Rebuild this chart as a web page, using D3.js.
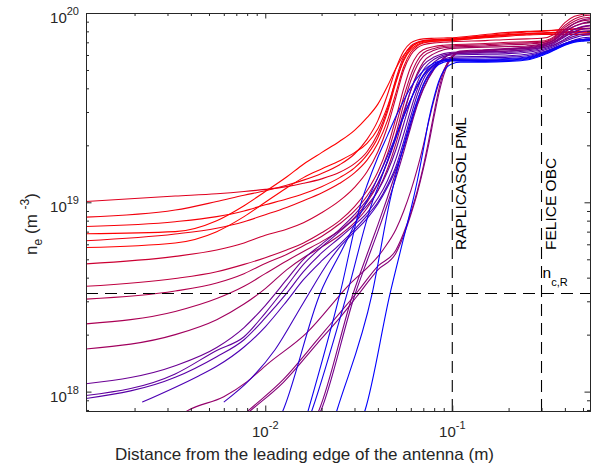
<!DOCTYPE html>
<html>
<head>
<meta charset="utf-8">
<script src="https://cdn.jsdelivr.net/npm/d3@7"></script>
<style>
  body { margin: 0; background: #fff; }
  text { font-family: "Liberation Sans", Arial, Helvetica, sans-serif; fill: #262626; }
</style>
</head>
<body>
<svg id="chart" width="592" height="464"></svg>
<script>
// Electron density profiles in front of the antenna, log-log.
const UNIT = 1e18;                 // profile values are given in 1e18 m^-3
const xDomain = [0.0011, 0.545];   // m
const yDomain = [7.9e17, 1e20];    // m^-3
const xMajorTicks = [0.01, 0.1];
const yMajorTicks = [1e18, 1e19, 1e20];
const boundaries = [
  { x: 0.1, label: "RAPLICASOL PML" },
  { x: 0.3, label: "FELICE OBC" }
];
const cutoffDensity = 3.3e18;      // n_c,R

// Sweep parameter of each profile (0 = first, 1 = last), drives the colour.
const sweep = [0.12, 0.05, 0.03, 0.0, 0.06, 0.0, 0.2, 0.25, 0.3, 0.33, 0.37,
               0.58, 0.62, 0.65, 0.7, 0.42, 0.45, 0.48, 0.5, 0.55, 0.75,
               0.88, 0.95, 0.92, 0.97, 1.0];

// Density ramp up to the PML, [x (m), n (1e18 m^-3)].
const rises = [
  [[0.0011,10.1],[0.0033,10.8],[0.0055,11.1],[0.0077,11.4],[0.01,11.7],[0.013,12.1],[0.016,12.6],[0.02,13.3],[0.025,14.4],[0.03,16],[0.035,18.5],[0.04,23],[0.045,31],[0.05,45],[0.055,59],[0.06,67],[0.065,70],[0.07,71.5],[0.08,72.3],[0.09,72.7],[0.1,73]],
  [[0.0011,8.35],[0.0033,9.1],[0.0055,10.1],[0.0077,10.9],[0.01,11.5],[0.013,12.3],[0.016,13.1],[0.02,14.2],[0.025,15.8],[0.03,18],[0.035,21.5],[0.04,27],[0.045,37],[0.05,51],[0.055,63],[0.06,69.5],[0.065,72],[0.07,73],[0.08,73.5],[0.09,73.8],[0.1,74]],
  [[0.0011,7.45],[0.0033,7.9],[0.0055,8.4],[0.0077,9.0],[0.01,9.7],[0.013,10.4],[0.016,11.1],[0.02,12.1],[0.025,13.5],[0.03,15.2],[0.035,17.8],[0.04,22],[0.045,30],[0.05,43],[0.055,57],[0.06,65.5],[0.065,69.5],[0.07,71],[0.08,72],[0.09,72.3],[0.1,72.5]],
  [[0.0011,6.82],[0.0033,7.0],[0.0055,8.0],[0.0077,9.6],[0.01,11.4],[0.013,13.6],[0.016,15.9],[0.02,18.3],[0.025,21],[0.03,24],[0.035,28],[0.04,33],[0.045,41],[0.05,51],[0.055,60],[0.06,66],[0.065,69.5],[0.07,71],[0.08,72],[0.09,72.5],[0.1,73]],
  [[0.0011,6.27],[0.0033,6.8],[0.0055,7.3],[0.0077,7.9],[0.01,8.6],[0.013,9.4],[0.016,10.2],[0.02,11.2],[0.025,12.6],[0.03,14.3],[0.035,16.7],[0.04,20.5],[0.045,27],[0.05,38],[0.055,52],[0.06,62],[0.065,67],[0.07,69.5],[0.08,71],[0.09,71.5],[0.1,72]],
  [[0.0011,5.77],[0.0033,6.1],[0.0055,7.0],[0.0077,8.4],[0.01,10.0],[0.013,11.9],[0.016,13.5],[0.02,15.0],[0.025,16.6],[0.03,18.3],[0.035,20.5],[0.04,24.5],[0.045,32],[0.05,44],[0.055,56],[0.06,64],[0.065,68],[0.07,70],[0.08,71],[0.09,71.3],[0.1,71.5]],
  [[0.0011,4.73],[0.0033,5.18],[0.0055,5.6],[0.0077,6.1],[0.01,6.7],[0.013,7.2],[0.016,7.8],[0.02,8.8],[0.025,10.2],[0.03,12],[0.035,14.5],[0.04,18.5],[0.045,25],[0.05,36],[0.055,50],[0.06,60],[0.065,65.5],[0.07,68],[0.08,69.5],[0.09,70],[0.1,70.5]],
  [[0.0011,3.6],[0.0033,3.96],[0.0055,4.3],[0.0077,4.7],[0.01,5.1],[0.013,5.6],[0.016,6.1],[0.02,6.9],[0.025,8.0],[0.03,9.5],[0.035,11.5],[0.04,14.5],[0.045,19.5],[0.05,28],[0.055,40],[0.06,52],[0.065,60],[0.07,64],[0.08,66.5],[0.09,67.5],[0.1,68]],
  [[0.0011,3.08],[0.0033,3.4],[0.0055,3.75],[0.0077,4.2],[0.01,4.75],[0.013,5.3],[0.016,5.9],[0.02,6.6],[0.025,7.7],[0.03,9.0],[0.035,10.8],[0.04,13.5],[0.045,18],[0.05,25.5],[0.055,36],[0.06,47],[0.065,56],[0.07,61.5],[0.08,65],[0.09,66.5],[0.1,67]],
  [[0.0011,2.28],[0.0033,2.65],[0.0055,3.1],[0.0077,3.6],[0.01,4.2],[0.013,4.9],[0.016,5.5],[0.02,6.2],[0.025,7.1],[0.03,8.3],[0.035,10],[0.04,12.5],[0.045,16.5],[0.05,23],[0.055,33],[0.06,44],[0.065,53],[0.07,59],[0.08,63.5],[0.09,65.5],[0.1,66]],
  [[0.0011,1.68],[0.0033,2.0],[0.0055,2.4],[0.0077,2.9],[0.01,3.5],[0.013,4.4],[0.016,5.1],[0.02,5.8],[0.025,6.7],[0.03,7.8],[0.035,9.3],[0.04,11.5],[0.045,15],[0.05,20.5],[0.055,29],[0.06,39],[0.065,48],[0.07,55],[0.08,61],[0.09,64],[0.1,65]],
  [[0.0011,1.10],[0.0033,1.37],[0.0055,1.71],[0.0077,2.18],[0.01,2.85],[0.013,3.9],[0.016,5.0],[0.02,6.0],[0.025,7.2],[0.03,8.6],[0.035,10.3],[0.04,12.6],[0.045,16.3],[0.05,22],[0.055,30],[0.06,39],[0.065,47],[0.07,53],[0.08,58.5],[0.09,61],[0.1,62]],
  [[0.0011,0.953],[0.0033,1.24],[0.0055,1.65],[0.0077,1.95],[0.01,2.6],[0.013,3.6],[0.016,4.7],[0.02,5.8],[0.025,7.0],[0.03,8.2],[0.035,9.6],[0.04,11.5],[0.045,14.5],[0.05,19],[0.055,26],[0.06,34.5],[0.065,43],[0.07,50],[0.08,57],[0.09,60],[0.1,61]],
  [[0.0011,0.92],[0.0033,1.19],[0.0055,1.53],[0.0077,1.88],[0.01,2.45],[0.013,3.3],[0.016,4.3],[0.02,5.4],[0.025,6.5],[0.03,7.6],[0.035,8.8],[0.04,10.5],[0.045,13],[0.05,17],[0.055,23],[0.06,31],[0.065,39.5],[0.07,47],[0.08,55],[0.09,59],[0.1,60]],
  [[0.0022,0.88],[0.0044,1.21],[0.0055,1.36],[0.0077,1.72],[0.01,2.2],[0.013,3.0],[0.016,3.9],[0.02,4.9],[0.025,6.0],[0.03,7.2],[0.035,8.5],[0.04,10],[0.045,12.3],[0.05,15.5],[0.055,21],[0.06,28.5],[0.065,37],[0.07,44.5],[0.08,53],[0.09,57],[0.1,58.5]],
  [[0.0033,0.72],[0.0039,0.8],[0.006,0.94],[0.008,1.13],[0.0102,1.39],[0.0167,2.05],[0.0274,3.58],[0.0426,5.6],[0.05,7.2],[0.055,9.0],[0.06,11.5],[0.065,15],[0.07,20],[0.075,27],[0.08,35],[0.085,43],[0.09,50],[0.1,58.5],[0.11,62]],
  [[0.0065,0.65],[0.0082,0.8],[0.0125,1.16],[0.019,1.88],[0.025,2.6],[0.031,3.35],[0.04,4.6],[0.05,5.6],[0.055,6.9],[0.06,8.8],[0.065,11.5],[0.07,15.5],[0.075,21.5],[0.08,30],[0.085,40],[0.09,49],[0.095,55.5],[0.1,59.5],[0.11,63]],
  [[0.0065,0.64],[0.0083,0.79],[0.0125,1.12],[0.019,1.8],[0.025,2.45],[0.031,3.2],[0.04,4.4],[0.05,5.4],[0.055,6.7],[0.06,8.6],[0.065,11.2],[0.07,15],[0.075,20.5],[0.08,28.5],[0.085,38],[0.09,47],[0.095,54],[0.1,58.5],[0.11,62.5]],
  [[0.018,0.68],[0.0194,0.8],[0.0295,3.3],[0.035,5.3],[0.04,7.6],[0.045,10.6],[0.05,14.5],[0.055,19.5],[0.06,26],[0.065,33],[0.07,40],[0.08,51],[0.09,58],[0.1,61.5]],
  [[0.0185,0.68],[0.0199,0.8],[0.0303,3.3],[0.035,4.9],[0.04,7.0],[0.045,9.8],[0.05,13.5],[0.055,18.5],[0.06,25],[0.065,32.5],[0.07,39.5],[0.08,50.5],[0.09,57.5],[0.1,61]],
  [[0.006,0.88],[0.0083,1.16],[0.0113,1.67],[0.016,2.95],[0.0222,4.97],[0.025,5.8],[0.03,7.0],[0.035,8.2],[0.04,9.8],[0.045,12],[0.05,15],[0.055,19.5],[0.06,26],[0.065,34],[0.07,42],[0.08,52],[0.09,56.5],[0.1,57.5]],
  [[0.0118,0.7],[0.0126,0.82],[0.0197,3.32],[0.0257,5.6],[0.03,7.6],[0.035,10.2],[0.04,13.5],[0.045,17.5],[0.05,22.5],[0.055,28.5],[0.06,35],[0.065,41.5],[0.07,47],[0.08,53.5],[0.09,56.5],[0.1,57]],
  [[0.016,0.65],[0.017,0.8],[0.0251,3.3],[0.0329,10.3],[0.035,12.3],[0.04,17.3],[0.045,22.5],[0.05,28.5],[0.055,34.5],[0.06,40.5],[0.065,45.5],[0.07,49.5],[0.08,54.5],[0.09,56],[0.1,56.2]],
  [[0.0168,0.68],[0.0178,0.8],[0.0274,3.3],[0.0377,10.3],[0.04,12],[0.045,16.5],[0.05,22],[0.055,28.5],[0.06,35],[0.065,41],[0.07,46.5],[0.08,53],[0.09,56],[0.1,56.7]],
  [[0.023,0.68],[0.0242,0.8],[0.0373,3.3],[0.0465,10.3],[0.05,14],[0.055,20],[0.06,27],[0.065,34.5],[0.07,41.5],[0.075,47],[0.08,51],[0.09,55],[0.1,55.8]],
  [[0.033,0.72],[0.0342,0.8],[0.0465,3.3],[0.055,6.5],[0.0617,10.3],[0.065,13],[0.07,19],[0.075,27.5],[0.08,36],[0.085,44],[0.09,49.5],[0.1,54],[0.11,55]]
];

// Plateau beyond the PML, n (1e18 m^-3) at tailX.
const tailX = [0.15, 0.2, 0.25, 0.3, 0.35, 0.4, 0.45, 0.5, 0.545];
const tails = [
  [75.5,77,78,78.5,79,79.5,79.5,79.5,79.5],
  [77,79,80,80.5,81,81.5,82,82.5,82.5],
  [75,76.5,77.5,78,78.5,78.5,78.5,78.5,78.5],
  [76,78,79.5,80,81,82,82.5,83,83],
  [74,75.5,76.5,77,77,77,77,77,77],
  [74.5,76.5,77.5,78,78.5,79,79.5,80,80],
  [71.5,72.5,73,73.5,77,89,96,98.5,99.5],
  [69,70,70.5,71,75,86,93,96.5,97.5],
  [68,69,69.5,70,74,84,90.5,94,95],
  [67,68,68.5,69.5,73,82,88,91,92],
  [66,66.5,67,68.5,72,80,85,88,89],
  [62.5,63,64,66,70,77,82,85,86],
  [61.5,62,63,65,69,75,80,82.5,83],
  [60.5,61,62,64,67.5,73,77.5,80,80.5],
  [59,59.5,60.5,63,66.5,71,74,76,76.5],
  [63.5,64.5,65.5,67.5,72,81,88,92,93.5],
  [64,65,66,68,71.5,79,85,88.5,90],
  [63.5,64.5,65,67,70.5,77,82,84.5,85.5],
  [63,64,65,66.5,70,75.5,79.5,82,82.5],
  [62,63,64,65.5,68,72,75.5,77.5,78],
  [58,58.5,59.5,62,65.5,69,72,74,74.5],
  [57,57.5,58.5,61.5,65,69,71.5,72.5,73],
  [56,56.5,57.5,60.5,64.5,68.5,71,72,72.5],
  [56.5,57,58,61,65,69,71.5,72.5,73],
  [55.5,56,57,60,64,68,70.5,71.5,72],
  [55,55.5,56.5,59.5,63.5,67.5,70,71,71.5]
];

const svg = d3.select("#chart");
const plot = { left: 86, right: 590, top: 13, bottom: 411 };

const x = d3.scaleLog().domain(xDomain).range([plot.left, plot.right]);
const y = d3.scaleLog().domain(yDomain).range([plot.bottom, plot.top]);
const colour = d3.scaleLinear().domain([0, 1])
  .range(["rgb(255,0,0)", "rgb(0,0,255)"]).interpolate(d3.interpolateRgb);

svg.append("defs").append("clipPath").attr("id", "plot-area")
  .append("rect")
  .attr("x", plot.left).attr("y", plot.top)
  .attr("width", plot.right - plot.left).attr("height", plot.bottom - plot.top);

// Profiles
const line = d3.line()
  .x(d => x(d[0]))
  .y(d => y(d[1] * UNIT))
  .curve(d3.curveMonotoneX);

const profiles = rises.map((r, i) => r.concat(tailX.map((tx, j) => [tx, tails[i][j]])));

svg.append("g").attr("clip-path", "url(#plot-area)")
  .selectAll("path")
  .data(profiles)
  .join("path")
  .attr("d", line)
  .attr("fill", "none")
  .attr("stroke", (d, i) => colour(sweep[i]))
  .attr("stroke-width", 1.1);

// Boundaries and the cutoff density
const guides = svg.append("g").attr("stroke", "#000").attr("stroke-width", 1.1)
  .attr("stroke-dasharray", "12,7").attr("fill", "none");
guides.selectAll("line.v").data(boundaries).join("line").attr("class", "v")
  .attr("x1", d => x(d.x)).attr("x2", d => x(d.x))
  .attr("y1", y(yDomain[0])).attr("y2", y(yDomain[1]));
guides.append("line")
  .attr("x1", x(xDomain[0])).attr("x2", x(xDomain[1]))
  .attr("y1", y(cutoffDensity)).attr("y2", y(cutoffDensity));

svg.selectAll("text.boundary").data(boundaries).join("text")
  .attr("class", "boundary")
  .attr("transform", d => `translate(${x(d.x) + 14},250) rotate(-90)`)
  .attr("font-size", 15.5)
  .style("fill", "#000")
  .text(d => d.label);

const nc = svg.append("text")
  .attr("x", x(0.3) + 1).attr("y", y(cutoffDensity) - 15)
  .attr("font-size", 15.5).style("fill", "#000");
nc.append("tspan").text("n");
nc.append("tspan").attr("dy", 8).attr("font-size", 11).text("c,R");

// Axes: inward ticks on all four sides
const isMajor = v => Math.abs(Math.log10(v) - Math.round(Math.log10(v))) < 1e-6;
const inside = (v, dom) => v >= dom[0] * 0.9999 && v <= dom[1] * 1.0001;
const xMinor = x.ticks().filter(v => !isMajor(v) && inside(v, xDomain));
const yMinor = y.ticks().filter(v => !isMajor(v) && inside(v, yDomain));

function drawAxis(maker, scale, pos, transform) {
  const g = svg.append("g").attr("transform", transform);
  g.append("g").call(maker(scale).tickValues(pos.minor).tickSizeInner(-3).tickSizeOuter(0).tickFormat(""));
  g.append("g").call(maker(scale).tickValues(pos.major).tickSizeInner(-5.5).tickSizeOuter(0).tickFormat(""));
  g.selectAll("path.domain").attr("stroke", "#262626");
  g.selectAll(".tick line").attr("stroke", "#262626");
  return g;
}
drawAxis(d3.axisBottom, x, { minor: xMinor, major: xMajorTicks }, `translate(0,${plot.bottom})`);
drawAxis(d3.axisTop, x, { minor: xMinor, major: xMajorTicks }, `translate(0,${plot.top})`);
drawAxis(d3.axisLeft, y, { minor: yMinor, major: yMajorTicks }, `translate(${plot.left},0)`);
drawAxis(d3.axisRight, y, { minor: yMinor, major: yMajorTicks }, `translate(${plot.right},0)`);

// Power-of-ten tick labels
function power(sel, v) {
  sel.append("tspan").text("10");
  sel.append("tspan").attr("dy", -8).attr("font-size", 11)
    .text(String(Math.round(Math.log10(v))));
}
svg.selectAll("text.xtick").data(xMajorTicks).join("text")
  .attr("class", "xtick")
  .attr("x", d => x(d)).attr("y", plot.bottom + 26)
  .attr("text-anchor", "middle").attr("font-size", 15)
  .each(function (d) { power(d3.select(this), d); });
svg.selectAll("text.ytick").data(yMajorTicks).join("text")
  .attr("class", "ytick")
  .attr("x", plot.left - 7).attr("y", d => y(d) + 10)
  .attr("text-anchor", "end").attr("font-size", 15)
  .each(function (d) { power(d3.select(this), d); });

// Axis titles
svg.append("text")
  .attr("x", 115).attr("y", 460)
  .attr("font-size", 17)
  .text("Distance from the leading edge of the antenna (m)");

const yt = svg.append("text")
  .attr("transform", `translate(37,224) rotate(-90)`)
  .attr("text-anchor", "middle").attr("font-size", 17);
yt.append("tspan").text("n");
yt.append("tspan").attr("dy", 5).attr("font-size", 12).text("e");
yt.append("tspan").attr("dy", -5).text(" (m ");
yt.append("tspan").attr("dy", -8).attr("font-size", 12).text("-3");
yt.append("tspan").attr("dy", 8).text(")");
</script>
</body>
</html>
